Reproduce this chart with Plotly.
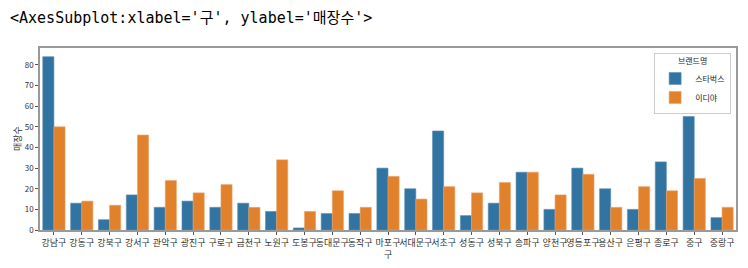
import plotly.graph_objects as go

districts = ["강남구", "강동구", "강북구", "강서구", "관악구", "광진구", "구로구", "금천구",
             "노원구", "도봉구", "동대문구", "동작구", "마포구", "서대문구", "서초구", "성동구",
             "성북구", "송파구", "양천구", "영등포구", "용산구", "은평구", "종로구", "중구", "중랑구"]
starbucks = [84, 13, 5, 17, 11, 14, 11, 13, 9, 1, 8, 8, 30, 20, 48, 7, 13, 28, 10, 30, 20, 10, 33, 55, 6]
ediya = [50, 14, 12, 46, 24, 18, 22, 11, 34, 9, 19, 11, 26, 15, 21, 18, 23, 28, 17, 27, 11, 21, 19, 25, 11]
y_ticks = [0, 10, 20, 30, 40, 50, 60, 70, 80]

FONT = "Noto Sans CJK KR"

fig = go.Figure()
fig.add_trace(go.Bar(x=districts, y=starbucks, name="스타벅스", marker_color="#3274a1",
                     marker_line=dict(color="#5a8fb5", width=0.6)))
fig.add_trace(go.Bar(x=districts, y=ediya, name="이디야", marker_color="#e1812c",
                     marker_line=dict(color="#eba366", width=0.6)))

fig.update_layout(
    width=748, height=268,
    margin=dict(l=40, r=10, t=48, b=38),
    plot_bgcolor="white", paper_bgcolor="white",
    barmode="group", bargap=0.2, bargroupgap=0,
    font=dict(family=FONT, size=9, color="#262626"),
    showlegend=True,
    legend=dict(
        title=dict(text="브랜드명", side="top center", font=dict(size=8)),
        x=0.993, y=0.975, xanchor="right", yanchor="top",
        bordercolor="#cccccc", borderwidth=1, bgcolor="rgba(255,255,255,0.9)",
        font=dict(size=8), itemwidth=30, tracegroupgap=0,
    ),
    xaxis=dict(
        range=[-0.5, 24.5], showline=True, linecolor="#999999", linewidth=1.5, mirror=True,
        ticks="outside", ticklen=3, tickcolor="#555555", tickangle=0,
        tickfont=dict(size=9, color="#333333"), showgrid=False,
    ),
    yaxis=dict(
        range=[0, 88.2], tickvals=y_ticks, showline=True, linecolor="#999999", linewidth=1.5,
        mirror=True, ticks="outside", ticklen=3, tickcolor="#555555",
        tickfont=dict(size=8, color="#333333"), showgrid=False, zeroline=False,
    ),
)

fig.add_annotation(text="<AxesSubplot:xlabel='구', ylabel='매장수'>",
                   xref="paper", yref="paper", x=(8 - 40) / 698, y=(230 - 18) / 182,
                   xanchor="left", yanchor="middle", showarrow=False,
                   font=dict(family="DejaVu Sans Mono, Noto Sans CJK KR", size=15, color="#000000"))
fig.add_annotation(text="구", xref="paper", yref="paper", x=0.5, y=(230 - 254) / 182,
                   xanchor="center", yanchor="middle", showarrow=False,
                   font=dict(size=9, color="#333333"))
fig.add_annotation(text="매장수", xref="paper", yref="paper", x=(17 - 40) / 698, y=0.5,
                   xanchor="center", yanchor="middle", showarrow=False, textangle=-90,
                   font=dict(size=9, color="#333333"))

fig.write_html("out.html")
